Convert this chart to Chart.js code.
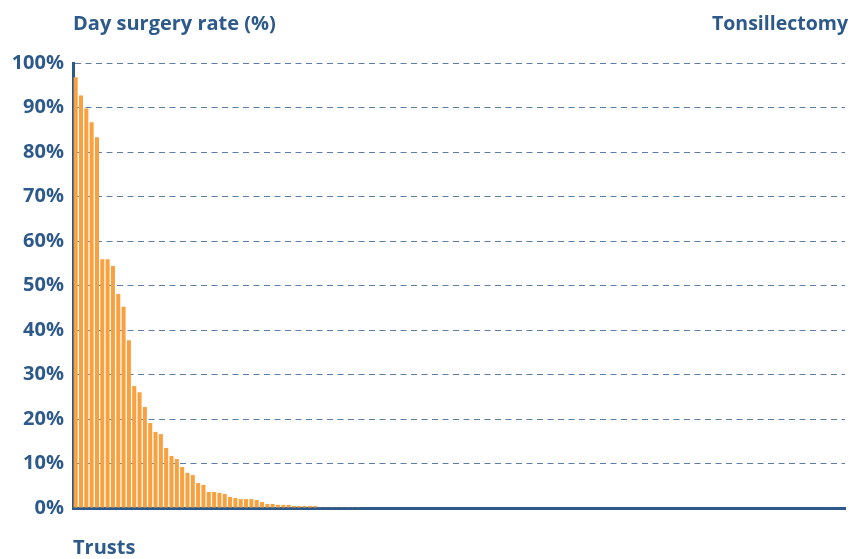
<!DOCTYPE html>
<html>
<head>
<meta charset="utf-8">
<script src="https://cdn.jsdelivr.net/npm/chart.js@4"></script>
<style>
  html, body { margin: 0; padding: 0; background: #fff; }
  #wrap { width: 850px; height: 559px; position: relative; }
</style>
</head>
<body>
<div id="wrap"><canvas id="dayChart"></canvas></div>
<script>
// day surgery rate per trust, sorted high to low (145 trusts)
const rates = [
  96.8, 92.7, 89.8, 86.7, 83.3, 55.9, 55.9, 54.4, 48.1, 45.2,
  37.7, 27.4, 26.0, 22.7, 19.1, 17.1, 16.6, 13.5, 11.7, 11.0,
  9.2, 7.9, 7.4, 5.6, 5.2, 3.6, 3.6, 3.4, 3.15, 2.5,
  2.25, 2.0, 2.0, 2.0, 1.8, 1.35, 0.9, 0.9, 0.7, 0.7,
  0.7, 0.45, 0.45, 0.45, 0.45, 0.45, 0.15, 0.15, 0.15, 0.15,
  0.15, 0.15, 0.15, 0.15
];
const trustCount = 145;
const yTicks = [0, 10, 20, 30, 40, 50, 60, 70, 80, 90, 100];
const yTitle = 'Day surgery rate (%)';
const procName = 'Tonsillectomy';
const xTitle = 'Trusts';

const trusts = [];
const values = [];
for (let i = 0; i < trustCount; i++) {
  trusts.push('Trust ' + (i + 1));
  values.push(i < rates.length ? rates[i] : 0);
}

const blue = '#2d5a8b';
const font = "'Open Sans', 'DejaVu Sans', sans-serif";

// header texts above the plot
const headerText = {
  id: 'headerText',
  afterDraw(chart) {
    const ctx = chart.ctx;
    ctx.save();
    ctx.fillStyle = blue;
    ctx.textBaseline = 'alphabetic';
    ctx.textAlign = 'left';
    ctx.font = 'bold 20px ' + font;
    ctx.fillText(yTitle, chart.chartArea.left, 30);
    ctx.textAlign = 'right';
    ctx.font = 'bold 19.5px ' + font;
    ctx.fillText(procName, chart.width - 2, 30);
    ctx.restore();
  }
};

new Chart(document.getElementById('dayChart'), {
  type: 'bar',
  data: {
    labels: trusts,
    datasets: [{
      label: yTitle,
      data: values,
      backgroundColor: '#f9a03f',
      borderWidth: 0,
      categoryPercentage: 1,
      barPercentage: 0.76
    }]
  },
  options: {
    responsive: true,
    maintainAspectRatio: false,
    animation: false,
    layout: { padding: { top: 63, right: 5, left: 0, bottom: 0 } },
    plugins: {
      legend: { display: false },
      tooltip: { enabled: false }
    },
    scales: {
      x: {
        grid: { display: false, drawTicks: false },
        border: { color: blue, width: 3 },
        ticks: { display: false },
        title: {
          display: true,
          text: xTitle,
          align: 'start',
          color: blue,
          font: { family: font, size: 20, weight: 'bold', lineHeight: 1 },
          padding: { top: 0, bottom: 1 }
        },
        afterFit(scale) { scale.height = 51; }
      },
      y: {
        min: 0,
        max: 100,
        afterBuildTicks(scale) { scale.ticks = yTicks.map(v => ({ value: v })); },
        ticks: {
          color: blue,
          padding: 9,
          font: { family: font, size: 20, weight: 'bold' },
          callback: v => v + '%'
        },
        grid: {
          drawTicks: false,
          color: ctx => ctx.tick && ctx.tick.value === 0 ? 'rgba(0,0,0,0)' : '#5b7ea6',
          lineWidth: 1
        },
        border: { color: blue, width: 3, dash: [6, 4.5] },
        afterFit(scale) { scale.width = 73; }
      }
    }
  },
  plugins: [headerText]
});
</script>
</body>
</html>
